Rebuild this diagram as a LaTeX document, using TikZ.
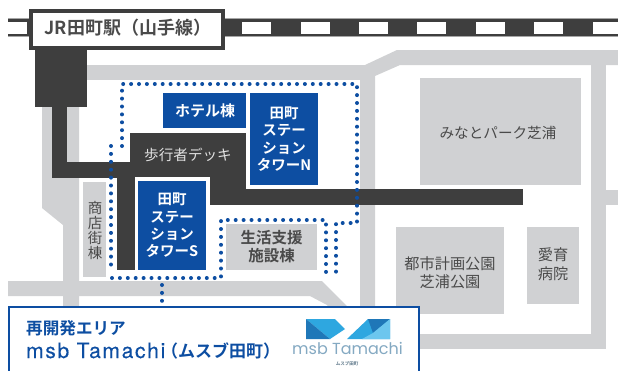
\documentclass[tikz,border=0pt]{standalone}
\usepackage{fontspec}
\setmainfont{Liberation Sans}
\newfontfamily\cjk{Noto Sans CJK JP}[BoldFont={Noto Sans CJK JP Bold}]
\newfontfamily\lat{TeX Gyre Heros}[LetterSpace=8,FakeBold=0.4]
\newfontfamily\logofont{Poppins}
\definecolor{roadc}{HTML}{D0D1D3}
\definecolor{darkc}{HTML}{3E3E3E}
\definecolor{bluec}{HTML}{0D4EA2}
\definecolor{txtc}{HTML}{4A4A4A}
\definecolor{logod}{HTML}{1F77B8}
\definecolor{logom}{HTML}{2EA7E0}
\definecolor{logol}{HTML}{6CC6EE}
\definecolor{logot}{HTML}{84A9C2}
\newcommand{\fs}[2]{\fontsize{#1}{#2}\selectfont}
\tikzset{
  road/.style={fill=roadc,draw=none},
  dark/.style={fill=darkc,draw=none},
  blk/.style={fill=roadc,draw=none,inner sep=0,anchor=north west},
  tower/.style={fill=bluec,draw=none,inner sep=0,anchor=north west},
  lbl/.style={font=\cjk\fs{15}{18.5},text=txtc,align=center,inner sep=0pt},
  wlbl/.style={font=\cjk\bfseries\fs{14.5}{17.4},text=white,align=center,inner sep=0pt},
  dots/.style={draw=bluec,line width=4,line cap=round,dash pattern=on 0pt off 7.9pt},
  info/.style={text=bluec,inner sep=0},
}
\begin{document}
\begin{tikzpicture}[x=1pt,y=-1pt]
\useasboundingbox (0,0) rectangle (618,370);
\fill[white] (0,0) rectangle (618,370);
% roads
\fill[road] (42,65) rectangle (365,80);
\fill[road] (360,65) -- (365,65) -- (397,50) -- (618,50) -- (618,65) -- (400,65) -- (375,76) -- (375,340) -- (360,340) -- cycle;
\fill[road] (591,60) rectangle (606,349);
\fill[road] (606,190) rectangle (618,205);
\fill[road] (360,334) rectangle (606,349);
\fill[road] (42,65) -- (79,65) -- (79,370) -- (63,370) -- (63,225) -- (42,208) -- cycle;
\fill[road] (8,281) -- (322,281) -- (352,311) -- (340,320) -- (327,305) -- (310,296) -- (8,296) -- cycle;
% rail
\fill[gray!70] (8,18) rectangle (618,37);
\fill[darkc] (8,19) rectangle (618,36);
\fill[white] (8,22) rectangle (27,34);
\foreach \xx in {242,300.5,359,417,476,534,593}{
  \fill[white] (\xx,22) rectangle ({min(\xx+29,618)},34);
}
% dark walkway
\fill[dark] (35,48) rectangle (87,107);
\fill[dark] (52,107) rectangle (67,178);
\fill[dark] (52,162) rectangle (135,178);
\fill[dark] (130,133) rectangle (246,205);
\fill[dark] (117,162) rectangle (135,270);
\fill[dark] (130,189) rectangle (523,205);
% towers
\fill[white] (135,177) rectangle (210,274);
\node[tower,minimum width=68,minimum height=89] (towerS) at (138,181) {};
\node[wlbl] at (172,225.5) {田町\\ステー\\ション\\タワーS};
\fill[white] (246,90) rectangle (322,189);
\node[tower,minimum width=67.5,minimum height=92] (towerN) at (250,93) {};
\node[wlbl] at (284,139) {田町\\ステー\\ション\\タワーN};
\node[tower,minimum width=83,minimum height=35] (hotel) at (163,93) {};
\node[wlbl,font=\cjk\bfseries\fs{15}{17}] at (205,111) {ホテル棟};
\node[lbl,font=\cjk\fs{14.6}{17},text=white!88!black] (deck) at (188,155) {歩行者デッキ};
% grey blocks
\node[blk,minimum width=23,minimum height=95] (shop) at (83,182) {};
\node[lbl,font=\cjk\fs{14.5}{15}] at (95,230.5) {商\\店\\街\\棟};
\node[blk,minimum width=91,minimum height=46] (life) at (226,224) {};
\node[lbl,font=\cjk\bfseries\fs{15.5}{18}] at (271.5,247) {生活支援\\施設棟};
\node[blk,minimum width=161,minimum height=107] (park) at (420,78) {};
\node[lbl,font=\cjk\fs{14.6}{17}] at (498,133) {みなとパーク芝浦};
\node[blk,minimum width=108,minimum height=87] (city) at (396,227) {};
\node[lbl,font=\cjk\fs{15.2}{18.5}] at (450,272.5) {都市計画公園\\芝浦公園};
\node[blk,minimum width=52,minimum height=77] (hosp) at (527,227) {};
\node[lbl,font=\cjk\fs{15.2}{19}] at (553,264.5) {愛育\\病院};
% station
\node[draw=darkc,line width=4,fill=white,minimum width=192,minimum height=37,inner sep=0,anchor=north west] (st) at (29,9) {};
\node[font=\cjk\bfseries\fs{18}{20},text=txtc,inner sep=0] at (128,28) {JR田町駅（山手線）};
% dotted
\draw[dots] (122,146) -- (122,84) -- (357,84) -- (357,223) -- (336,223) -- (336,278);
\draw[dots] (111,146) -- (111,267);
\draw[dots] (112,278) -- (221,278) -- (221,220) -- (326,220) -- (326,278);
\draw[dots] (162,285) -- (162,301);
% info box
\fill[white,draw=bluec,line width=2] (9,307) rectangle (419,375);
\node[info,font=\cjk\bfseries\fs{16.6}{18},anchor=west] at (26,328) {再開発エリア};
\node[info,font=\lat\fs{21}{22},anchor=base west] at (26,358) {msb Tamachi};
\node[info,font=\cjk\bfseries\fs{17}{18},anchor=west] at (161,351) {（ムスブ田町）};
% logo
\fill[logom] (306,319) -- (335,319) -- (345,329) -- (330,339) -- cycle;
\fill[logod] (306,319) -- (306,339) -- (330,339) -- cycle;
\fill[logom] (347,339) -- (368,319) -- (390,319) -- (390,339) -- cycle;
\fill[logod] (368,319) -- (390,319) -- (373,333) -- cycle;
\fill[logol] (390,319) -- (390,339) -- (362,339) -- (373,333) -- cycle;
\node[font=\logofont\fs{16}{16},text=logot,inner sep=0] at (347.5,348.5) {msb Tamachi};
\node[font=\cjk\bfseries\fs{4.5}{5},text=logot!70!black,inner sep=0] at (347,364) {ムスブ田町};
\end{tikzpicture}
\end{document}
